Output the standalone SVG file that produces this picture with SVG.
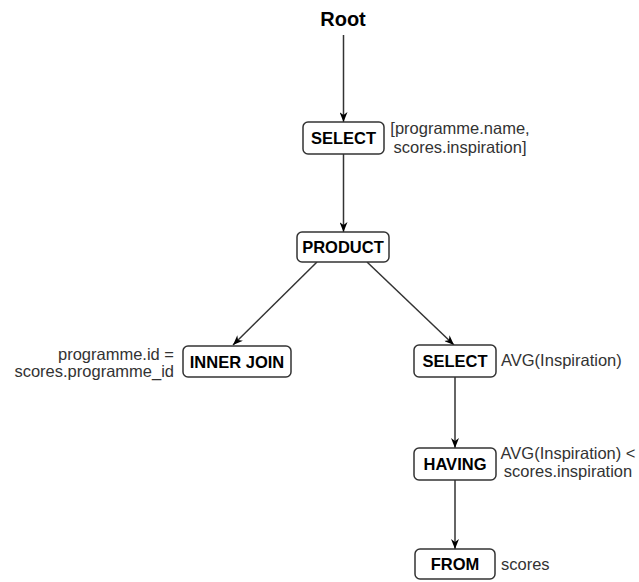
<svg xmlns="http://www.w3.org/2000/svg" width="639" height="582" viewBox="0 0 639 582">
<style>
.box{fill:#fff;stroke:#333;stroke-width:1.5}
.nt{font-family:"Liberation Sans",Arial,sans-serif;font-size:16.5px;font-weight:bold;fill:#000;text-anchor:middle}
.lb{font-family:"Liberation Sans",Arial,sans-serif;font-size:16.5px;fill:#333}
.edge{stroke:#333;stroke-width:1.5;fill:none;marker-end:url(#arr)}
</style>
<defs>
<marker id="arr" viewBox="0 0 10 8" refX="10" refY="4" markerWidth="10" markerHeight="8" markerUnits="userSpaceOnUse" orient="auto">
<path d="M0,0 L10,4 L0,8 L3,4 z" fill="#000"/>
</marker>
</defs>
<g id="edges">
<line class="edge" x1="343.5" y1="35" x2="343.5" y2="122"/>
<line class="edge" x1="343.5" y1="154" x2="343.5" y2="232"/>
<line class="edge" x1="317" y1="262" x2="233" y2="345"/>
<line class="edge" x1="367" y1="262" x2="454" y2="345"/>
<line class="edge" x1="455" y1="377" x2="455" y2="448"/>
<line class="edge" x1="455" y1="480" x2="455" y2="549"/>
</g>
<g id="root">
<text x="343" y="26" style="font-family:'Liberation Sans',Arial,sans-serif;font-size:20px;font-weight:bold;fill:#000;text-anchor:middle">Root</text>
</g>
<g id="select1">
<rect class="box" x="303" y="122" width="81" height="32" rx="5"/>
<text class="nt" x="343.5" y="144">SELECT</text>
<text class="lb" x="460" y="134" text-anchor="middle">[programme.name,</text>
<text class="lb" x="460" y="152.5" text-anchor="middle">scores.inspiration]</text>
</g>
<g id="product">
<rect class="box" x="297" y="232" width="92" height="30" rx="5"/>
<text class="nt" x="343" y="253">PRODUCT</text>
</g>
<g id="innerjoin">
<rect class="box" x="183" y="346" width="108" height="31" rx="5"/>
<text class="nt" x="237" y="367.5">INNER JOIN</text>
<text class="lb" x="174" y="360" text-anchor="end">programme.id =</text>
<text class="lb" x="174" y="377" text-anchor="end">scores.programme_id</text>
</g>
<g id="select2">
<rect class="box" x="414" y="345" width="82" height="32" rx="5"/>
<text class="nt" x="455" y="367">SELECT</text>
<text class="lb" x="501" y="366">AVG(Inspiration)</text>
</g>
<g id="having">
<rect class="box" x="414" y="448" width="82" height="32" rx="5"/>
<text class="nt" x="455" y="470">HAVING</text>
<text class="lb" x="568" y="459" text-anchor="middle">AVG(Inspiration) &lt;</text>
<text class="lb" x="568" y="476.5" text-anchor="middle">scores.inspiration</text>
</g>
<g id="from">
<rect class="box" x="415" y="549" width="80" height="30" rx="5"/>
<text class="nt" x="455" y="570">FROM</text>
<text class="lb" x="501" y="570">scores</text>
</g>
</svg>
